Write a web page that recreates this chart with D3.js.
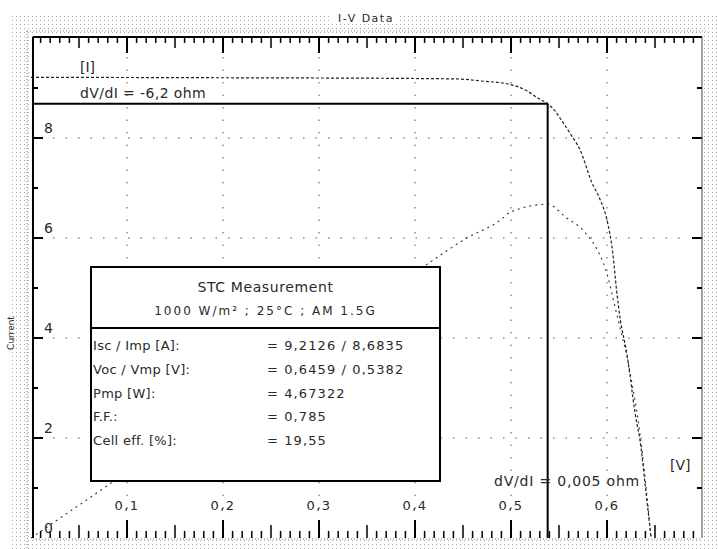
<!DOCTYPE html>
<html>
<head>
<meta charset="utf-8">
<script src="https://cdn.jsdelivr.net/npm/d3@7/dist/d3.min.js"></script>
<style>
  html, body { margin: 0; padding: 0; background: #fff; }
  svg { display: block; }
  text { font-family: "DejaVu Sans", sans-serif; fill: #2a2a2a; }
</style>
</head>
<body>
<svg id="chart" width="718" height="549"></svg>
<script>
// ---------- data ----------
const chartTitle = "I-V Data";
const ivVoltage = [0, 0.1, 0.2, 0.3, 0.4, 0.445, 0.469, 0.497, 0.515, 0.528, 0.5382, 0.546, 0.551, 0.562, 0.572, 0.584, 0.593, 0.600, 0.606, 0.610, 0.614, 0.620, 0.624, 0.627, 0.631, 0.634, 0.640, 0.6459];
const ivCurrent = [9.2126, 9.21, 9.205, 9.20, 9.19, 9.18, 9.14, 9.08, 8.96, 8.80, 8.6835, 8.54, 8.40, 8.08, 7.76, 7.12, 6.76, 6.36, 5.70, 4.95, 4.35, 3.76, 3.25, 2.80, 2.30, 2.00, 1.02, 0];
const pvVoltage = [0, 0.05, 0.1, 0.15, 0.2, 0.25, 0.3, 0.35, 0.4156, 0.454, 0.489, 0.499, 0.5382, 0.558, 0.575, 0.590, 0.596, 0.601, 0.606, 0.611, 0.616, 0.621, 0.626, 0.632, 0.640, 0.6459];
const pvPower = [0, 0.46, 0.92, 1.38, 1.84, 2.30, 2.76, 3.22, 3.86, 4.20, 4.45, 4.56, 4.673, 4.48, 4.31, 4.03, 3.86, 3.65, 3.37, 3.09, 2.81, 2.53, 2.17, 1.69, 0.80, 0];
const mppVoltage = 0.5382;
const mppCurrent = 8.6835;
const xTickValues = [0.1, 0.2, 0.3, 0.4, 0.5, 0.6];
const xTickLabels = ["0,1", "0,2", "0,3", "0,4", "0,5", "0,6"];
const yTickValues = [0, 2, 4, 6, 8];
const yTickLabels = ["0", "2", "4", "6", "8"];
const slopeIscLabel = "dV/dI = -6,2 ohm";
const slopeVocLabel = "dV/dI = 0,005 ohm";
const currentUnit = "[I]";
const voltageUnit = "[V]";
const yAxisTitle = "Current";
const boxTitle = "STC Measurement";
const boxSubtitle = "1000 W/m² ; 25°C ; AM 1.5G";
const statLabels = ["Isc / Imp [A]:", "Voc / Vmp [V]:", "Pmp [W]:", "F.F.:", "Cell eff. [%]:"];
const statValues = ["= 9,2126 / 8,6835", "= 0,6459 / 0,5382", "= 4,67322", "= 0,785", "= 19,55"];

// ---------- layout ----------
const svg = d3.select("#chart");
const L = 33, T = 37, R = 702, B = 538;
const x = d3.scaleLinear().domain([0, 0.7]).range([31, 703]);
const y = d3.scaleLinear().domain([0, 10]).range([538, 38]);
const yP = d3.scaleLinear().domain([0, 7]).range([538, 38]);

const defs = svg.append("defs");
const pat = defs.append("pattern").attr("id", "dots").attr("width", 4).attr("height", 4)
  .attr("patternUnits", "userSpaceOnUse");
pat.append("rect").attr("x", 0).attr("y", 0).attr("width", 1).attr("height", 1).attr("fill", "#a8a8a8");

// outer dotted frame
svg.append("rect").attr("x", 10).attr("y", 14).attr("width", 708).attr("height", 535).attr("fill", "url(#dots)");
svg.append("line").attr("x1", 27).attr("x2", 27).attr("y1", 31).attr("y2", 549)
  .attr("stroke", "#777").attr("stroke-dasharray", "1,2");
svg.append("line").attr("x1", 27).attr("x2", 706).attr("y1", 31).attr("y2", 31)
  .attr("stroke", "#999").attr("stroke-dasharray", "1,2");
// plot area
svg.append("rect").attr("x", L).attr("y", T).attr("width", R - L).attr("height", B - T).attr("fill", "#fff");

// title
svg.append("rect").attr("x", 332).attr("y", 12).attr("width", 68).attr("height", 12).attr("fill", "#fff");
svg.append("text").attr("x", 366).attr("y", 22).attr("text-anchor", "middle")
  .attr("font-size", 11).attr("letter-spacing", 1.5).text(chartTitle);

// y axis title (rotated, left margin)
svg.append("text").attr("transform", "translate(14,333) rotate(-90)").attr("text-anchor", "middle")
  .attr("font-size", 9).attr("fill", "#333").text(yAxisTitle);

// grid
const g = svg.append("g");
g.selectAll("line.vgrid").data(xTickValues).join("line").attr("class", "vgrid")
  .attr("x1", d => x(d)).attr("x2", d => x(d)).attr("y1", T + 20).attr("y2", B - 20)
  .attr("stroke", "#555").attr("stroke-width", 1).attr("stroke-dasharray", "1.5,11");
g.selectAll("line.hgrid").data(yTickValues.filter(d => d > 0)).join("line").attr("class", "hgrid")
  .attr("x1", L + 20).attr("x2", R - 12).attr("y1", d => y(d)).attr("y2", d => y(d))
  .attr("stroke", "#555").attr("stroke-width", 1).attr("stroke-dasharray", "1.5,11");

// curves
const ivData = ivVoltage.map((v, i) => [v, ivCurrent[i]]);
const pvData = pvVoltage.map((v, i) => [v, pvPower[i]]);
const ivLine = d3.line().x(d => x(d[0])).y(d => y(d[1])).curve(d3.curveMonotoneX);
const pvLine = d3.line().x(d => x(d[0])).y(d => yP(d[1])).curve(d3.curveMonotoneX);
svg.append("path").datum(ivData).attr("d", ivLine).attr("fill", "none")
  .attr("stroke", "#222").attr("stroke-width", 1.2).attr("stroke-dasharray", "3,2");
svg.append("path").datum(pvData).attr("d", pvLine).attr("fill", "none")
  .attr("stroke", "#333").attr("stroke-width", 1.1).attr("stroke-dasharray", "2,4");

// MPP lines
svg.append("line").attr("x1", L).attr("x2", x(mppVoltage)).attr("y1", y(mppCurrent)).attr("y2", y(mppCurrent))
  .attr("stroke", "#000").attr("stroke-width", 2);
svg.append("line").attr("x1", x(mppVoltage)).attr("x2", x(mppVoltage)).attr("y1", y(mppCurrent)).attr("y2", B)
  .attr("stroke", "#000").attr("stroke-width", 2);

// ticks (x, minor every 0.01)
const xMinor = d3.range(1, 70).map(i => i / 100);
function xTickLen(d, top) {
  const k = Math.round(d * 100);
  if (k % 10 === 0) return top ? 16 : 18;
  if (k % 5 === 0) return top ? 11 : 13;
  return top ? 6 : 7;
}
svg.selectAll("line.xt-top").data(xMinor).join("line").attr("class", "xt-top")
  .attr("x1", d => x(d)).attr("x2", d => x(d)).attr("y1", T).attr("y2", d => T + xTickLen(d, true))
  .attr("stroke", "#000").attr("stroke-width", d => Math.round(d * 100) % 10 === 0 ? 2 : 1.5);
svg.selectAll("line.xt-bot").data(xMinor).join("line").attr("class", "xt-bot")
  .attr("x1", d => x(d)).attr("x2", d => x(d)).attr("y1", B).attr("y2", d => B - xTickLen(d, false))
  .attr("stroke", "#000").attr("stroke-width", d => Math.round(d * 100) % 10 === 0 ? 2 : 1.5);

// y ticks (every 1)
const yMinor = d3.range(1, 10);
svg.selectAll("line.yt-l").data(yMinor).join("line").attr("class", "yt-l")
  .attr("x1", L).attr("x2", d => L + (d % 2 === 0 ? 10 : 5)).attr("y1", d => y(d)).attr("y2", d => y(d))
  .attr("stroke", "#000").attr("stroke-width", 2);
svg.selectAll("line.yt-r").data(yMinor).join("line").attr("class", "yt-r")
  .attr("x1", R).attr("x2", d => R - (d % 2 === 0 ? 10 : 5)).attr("y1", d => y(d)).attr("y2", d => y(d))
  .attr("stroke", "#000").attr("stroke-width", 2);

// frame
svg.append("line").attr("x1", L).attr("x2", L).attr("y1", T).attr("y2", B).attr("stroke", "#000").attr("stroke-width", 2);
svg.append("line").attr("x1", L).attr("x2", R).attr("y1", T).attr("y2", T).attr("stroke", "#000").attr("stroke-width", 2);
svg.append("line").attr("x1", R).attr("x2", R).attr("y1", T).attr("y2", B).attr("stroke", "#444").attr("stroke-width", 1);
svg.append("line").attr("x1", L).attr("x2", R).attr("y1", B + 1).attr("y2", B + 1)
  .attr("stroke", "#777").attr("stroke-width", 1).attr("stroke-dasharray", "1,2");

// tick labels
svg.selectAll("text.xl").data(xTickValues).join("text").attr("class", "xl")
  .attr("x", d => x(d)).attr("y", 510).attr("text-anchor", "middle").attr("font-size", 13)
  .attr("letter-spacing", 1.5).text((d, i) => xTickLabels[i]);
svg.selectAll("text.yl").data(yTickValues).join("text").attr("class", "yl")
  .attr("x", 44).attr("y", d => y(d) - 5).attr("font-size", 14)
  .text((d, i) => yTickLabels[i]);

// annotations
svg.append("text").attr("x", 80).attr("y", 72).attr("font-size", 14).text(currentUnit);
svg.append("text").attr("x", 80).attr("y", 98).attr("font-size", 14).attr("letter-spacing", 0.4).text(slopeIscLabel);
svg.append("text").attr("x", 670).attr("y", 470).attr("font-size", 14).text(voltageUnit);
svg.append("text").attr("x", 494).attr("y", 486).attr("font-size", 14).attr("letter-spacing", 0.8).text(slopeVocLabel);

// stats box
const bx = 91, by = 267, bw = 349, bh = 214, bdiv = 328;
svg.append("rect").attr("x", bx).attr("y", by).attr("width", bw).attr("height", bh)
  .attr("fill", "#fff").attr("stroke", "#000").attr("stroke-width", 2);
svg.append("line").attr("x1", bx).attr("x2", bx + bw).attr("y1", bdiv).attr("y2", bdiv)
  .attr("stroke", "#000").attr("stroke-width", 2);
svg.append("text").attr("x", bx + bw / 2).attr("y", 292).attr("text-anchor", "middle")
  .attr("font-size", 14).attr("letter-spacing", 0.6).text(boxTitle);
svg.append("text").attr("x", bx + bw / 2).attr("y", 315).attr("text-anchor", "middle")
  .attr("font-size", 12).attr("letter-spacing", 2).text(boxSubtitle);
const rowY = [350, 374, 398, 421, 445];
svg.selectAll("text.sl").data(statLabels).join("text").attr("class", "sl")
  .attr("x", 93).attr("y", (d, i) => rowY[i]).attr("font-size", 13).attr("letter-spacing", 0.3).text(d => d);
svg.selectAll("text.sv").data(statValues).join("text").attr("class", "sv")
  .attr("x", 267).attr("y", (d, i) => rowY[i]).attr("font-size", 13).attr("letter-spacing", 1.1).text(d => d);
</script>
</body>
</html>
